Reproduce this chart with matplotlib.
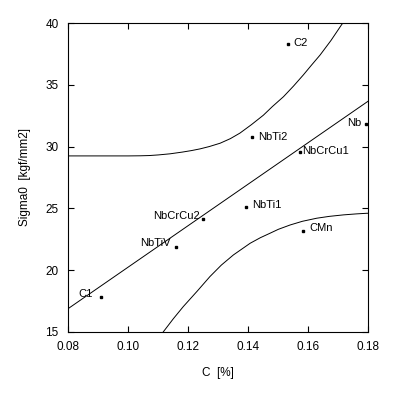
import numpy as np
import matplotlib
matplotlib.use('Agg')
import matplotlib.pyplot as plt

plt.rcParams['font.family'] = ['Liberation Sans', 'DejaVu Sans']

# steel grades: carbon content vs yield stress
names = ['C2', 'NbTi2', 'Nb', 'NbCrCu1', 'NbTi1', 'CMn', 'NbCrCu2', 'NbTiV', 'C1']
carbon = [0.1531, 0.1411, 0.1791, 0.1572, 0.1392, 0.1583, 0.1250, 0.1159, 0.0908]
sigma0 = [38.30, 30.81, 31.84, 29.60, 25.14, 23.17, 24.12, 21.90, 17.82]

# band curves
upper_x = [0.080, 0.0900, 0.1000, 0.1040, 0.1070, 0.1100, 0.1139, 0.1180, 0.1210,
           0.1239, 0.1270, 0.1306, 0.1340, 0.1372, 0.1410, 0.1450, 0.1480, 0.1517,
           0.1550, 0.1583, 0.1610, 0.1639, 0.1675, 0.1711, 0.1740]
upper_y = [29.25, 29.25, 29.25, 29.26, 29.28, 29.33, 29.42, 29.56, 29.68,
           29.82, 30.01, 30.28, 30.65, 31.10, 31.78, 32.55, 33.25, 34.05,
           34.90, 35.81, 36.60, 37.43, 38.60, 39.90, 40.80]
lower_x = [0.1100, 0.1117, 0.1150, 0.1183, 0.1230, 0.1272, 0.1310, 0.1350, 0.1406,
           0.1440, 0.1472, 0.1500, 0.1539, 0.1580, 0.1628, 0.1670, 0.1717, 0.1760,
           0.1795, 0.1800]
lower_y = [14.50, 15.00, 16.05, 17.03, 18.30, 19.47, 20.40, 21.22, 22.17,
           22.62, 22.98, 23.30, 23.65, 23.95, 24.20, 24.35, 24.47, 24.55,
           24.60, 24.60]

xticks = [0.08, 0.10, 0.12, 0.14, 0.16, 0.18]
yticks = [15, 20, 25, 30, 35, 40]

# label offsets in pixels (dx, dy, alignment)
label_pos = {
    'C2': (6, 1, 'left'), 'NbTi2': (6, 0, 'left'), 'Nb': (-4, 1, 'right'),
    'NbCrCu1': (2, 1, 'left'), 'NbTi1': (6, 2, 'left'), 'CMn': (6, 3, 'left'),
    'NbCrCu2': (-3, 3, 'right'), 'NbTiV': (-5, 4, 'right'), 'C1': (-8, 3, 'right'),
}

fig = plt.figure(figsize=(3.97, 3.97), dpi=100)
ax = fig.add_axes([0.172, 0.1645, 0.756, 0.7768])

# least squares line through the points
k, b = np.polyfit(carbon, sigma0, 1)
xl = np.array([0.08, 0.18])
ax.plot(xl, k * xl + b, color='black', linewidth=0.7)

ax.plot(upper_x, upper_y, color='black', linewidth=0.7)
ax.plot(lower_x, lower_y, color='black', linewidth=0.7)

ax.plot(carbon, sigma0, linestyle='none', marker='s', markersize=1.8,
        color='black')
for name, xv, yv in zip(names, carbon, sigma0):
    dx, dy, ha = label_pos[name]
    ax.annotate(name, (xv, yv), xytext=(dx, dy), textcoords='offset pixels',
                ha=ha, va='center', fontsize=8)

ax.set_xlim(0.08, 0.18)
ax.set_ylim(15, 40)
ax.set_xticks(xticks)
ax.set_xticklabels(['%.2f' % v for v in xticks])
ax.set_yticks(yticks)
ax.tick_params(direction='in', length=4, width=0.8, top=True, right=True,
               labelsize=8.5, pad=7)
for s in ax.spines.values():
    s.set_linewidth(0.8)

ax.set_xlabel('C  [%]', fontsize=8.5, labelpad=10)
ax.set_ylabel('Sigma0  [kgf/mm2]', fontsize=8.5, labelpad=10)

fig.savefig('out.png', dpi=100)
